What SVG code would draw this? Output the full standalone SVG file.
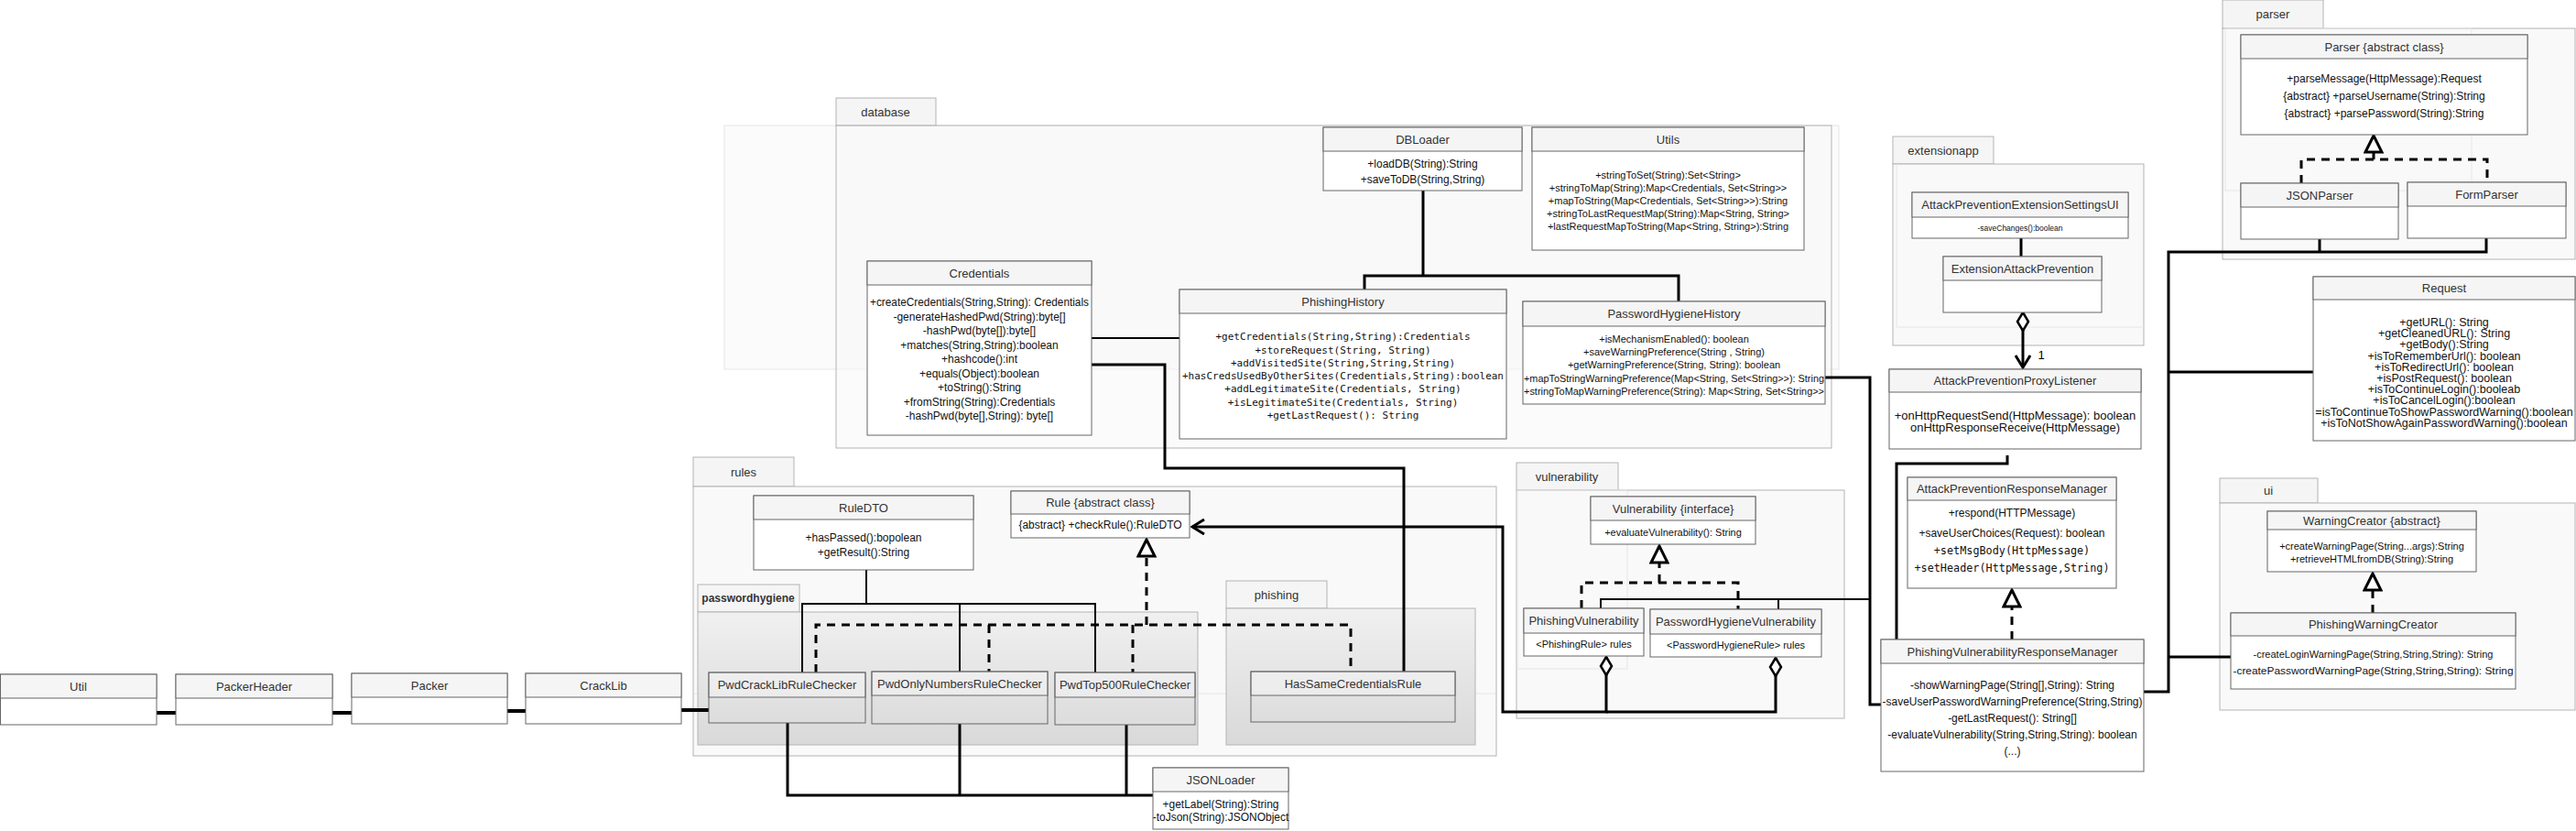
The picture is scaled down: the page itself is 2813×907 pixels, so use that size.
<svg xmlns="http://www.w3.org/2000/svg" width="2813" height="907" viewBox="0 0 2813 907">
<style>
.pkgb{fill:#f9f9f9;stroke:#b3b3b3;stroke-width:1}
.pkgt{fill:#f5f5f5;stroke:#b3b3b3;stroke-width:1}
.pkgg{fill:url(#g);stroke:#b3b3b3;stroke-width:1}
.faint{fill:#fbfbfb;stroke:#e6e6e6;stroke-width:1}
.fl{fill:none;stroke:#e6e6e6;stroke-width:1}
.box{fill:#fff;stroke:#666;stroke-width:1}
.hd{fill:#f5f5f5;stroke:#666;stroke-width:1}
.tb{fill:none;stroke:#666;stroke-width:1}
.th{fill:#ffffff;fill-opacity:.35;stroke:#666;stroke-width:1}
text{font-family:"Liberation Sans",Arial,sans-serif;fill:#333;text-anchor:middle;dominant-baseline:central}
.n{font-size:13px}
.nb{font-size:12px;font-weight:bold}
.m{font-size:12px;fill:#111}
.s11{font-size:11px}
.s13{font-size:13px}
.mono{font-family:"DejaVu Sans Mono","Liberation Mono",monospace}
.c{fill:none;stroke:#000;stroke-width:3}
.c2{stroke-width:2}
.c4{stroke-width:4}
.d{stroke-dasharray:9 7}
.tri{marker-end:url(#tri)}
</style>
<defs>
<linearGradient id="g" x1="0" y1="0" x2="0" y2="1">
<stop offset="0" stop-color="#f0f0f0"/>
<stop offset="1" stop-color="#d9d9d9"/>
</linearGradient>
<marker id="tri" viewBox="0 0 22 22" refX="20" refY="11" markerWidth="22" markerHeight="22" markerUnits="userSpaceOnUse" orient="auto">
<path d="M2,2 L20,11 L2,20 Z" fill="#fff" stroke="#000" stroke-width="3" stroke-linejoin="miter"/>
</marker>
<marker id="dia" viewBox="0 0 22 16" refX="1" refY="8" markerWidth="22" markerHeight="16" markerUnits="userSpaceOnUse" orient="auto">
<path d="M1,8 L11,2 L21,8 L11,14 Z" fill="#fff" stroke="#000" stroke-width="2.5"/>
</marker>
<marker id="open" viewBox="0 0 16 18" refX="14" refY="9" markerWidth="16" markerHeight="18" markerUnits="userSpaceOnUse" orient="auto">
<path d="M1,1 L14,9 L1,17" fill="none" stroke="#000" stroke-width="3"/>
</marker>
</defs>
<rect width="2813" height="907" fill="#fff"/>

<!-- packages -->
<g id="pkg-database">
<rect class="faint" x="791" y="137" width="1217" height="266"/>
<rect class="pkgt" x="913" y="107" width="109" height="30"/>
<rect class="pkgb" x="913" y="137" width="1087" height="352" fill-opacity=".6"/>
<text class="n" x="967" y="122">database</text>
</g>
<g id="pkg-extensionapp">
<rect class="pkgt" x="2067" y="149" width="110" height="30"/>
<rect class="pkgb" x="2067" y="179" width="274" height="198"/>
<line class="fl" x1="2071" y1="357" x2="2341" y2="357"/>
<line class="fl" x1="2071" y1="179" x2="2071" y2="357"/>
<text class="n" x="2122" y="164">extensionapp</text>
</g>
<g id="pkg-parser">
<rect class="pkgt" x="2427" y="0" width="110" height="31"/>
<rect class="pkgb" x="2427" y="31" width="385" height="252"/>
<rect class="fl" x="2430" y="31" width="269" height="177"/>
<text class="n" x="2482" y="15">parser</text>
</g>
<g id="pkg-ui">
<rect class="pkgt" x="2424" y="522" width="107" height="27"/>
<rect class="pkgb" x="2424" y="549" width="388" height="226"/>
<text class="n" x="2477" y="535">ui</text>
</g>
<g id="pkg-rules">
<rect class="pkgt" x="757" y="499" width="110" height="32"/>
<rect class="pkgb" x="757" y="531" width="877" height="294"/>
<line class="fl" x1="758" y1="757" x2="1633" y2="757"/>
<text class="n" x="812" y="515">rules</text>
</g>
<g id="pkg-passwordhygiene">
<rect class="pkgt" x="762" y="638" width="111" height="30"/>
<rect class="pkgg" x="762" y="668" width="546" height="145"/>
<text class="nb" x="817" y="653">passwordhygiene</text>
</g>
<g id="pkg-phishing">
<rect class="pkgt" x="1339" y="634" width="110" height="30"/>
<rect class="pkgg" x="1339" y="664" width="272" height="149"/>
<text class="n" x="1394" y="649">phishing</text>
</g>
<g id="pkg-vulnerability">
<rect class="pkgt" x="1656" y="505" width="111" height="30"/>
<rect class="pkgb" x="1656" y="535" width="358" height="249"/>
<rect class="fl" x="1657" y="535" width="120" height="195"/>
<text class="n" x="1711" y="520">vulnerability</text>
</g>

<!-- connectors -->
<g id="connectors">
<path class="c c2" d="M1192,369 H1288"/>
<path class="c" d="M1192,398 H1272 V511 H1533 V733"/>
<path class="c" d="M1554,208 V301 M1490,316 V301 H1833 V329"/>
<path class="c" d="M1993,412 H2042 V769 H2054"/>
<path class="c c2" d="M1748,664 V654 H2042 M1942,665 V654"/>
<path class="c" d="M2207,260 V280"/>
<path class="c" d="M2209,341 V401" marker-start="url(#dia)" marker-end="url(#open)"/>
<path class="c" d="M2192,497 V506 H2071 V698"/>
<path class="c d tri" d="M2197,698 V644"/>
<path class="c" d="M2341,755 H2368 V275 H2715 V260 M2533,261 V275 M2368,406 H2526 M2368,717 H2436"/>
<path class="c d tri" d="M2592,174 V148"/>
<path class="c d" d="M2513,200 V174 H2716 V199"/>
<path class="c d tri" d="M2591,669 V626"/>
<path class="c d tri" d="M1812,636 V596"/>
<path class="c d" d="M1727,664 V636 H1898 V665"/>
<path class="c" d="M1754,717 V777 H1641 V575 H1302" marker-start="url(#dia)" marker-end="url(#open)"/>
<path class="c" d="M1939,718 V777 H1754" marker-start="url(#dia)"/>
<path class="c d tri" d="M1252,682 V589"/>
<path class="c d" d="M891,734 V682 H1475 V733 M1080,682 V733 M1237,682 V734"/>
<path class="c c2" d="M946,622 V659 M876,734 V659 H1196 V734 M1048,659 V733"/>
<path class="c c4" d="M171,778 H192 M363,778 H384 M554,776 H574 M744,775 H774"/>
<path class="c" d="M860,789 V868 H1259 M1048,790 V868 M1230,791 V868"/>
<text class="s13" x="2229" y="387" style="fill:#000">1</text>
</g>

<!-- nodes -->
<g id="Credentials">
<rect class="box" x="947" y="285" width="245" height="190"/>
<rect class="hd" x="947" y="285" width="245" height="26"/>
<text class="n" x="1069.5" y="298">Credentials</text>
<text class="m" x="1069.5" y="330" textLength="239" lengthAdjust="spacingAndGlyphs">+createCredentials(String,String): Credentials</text>
<text class="m" x="1069.5" y="345.5">-generateHashedPwd(String):byte[]</text>
<text class="m" x="1069.5" y="361">-hashPwd(byte[]):byte[]</text>
<text class="m" x="1069.5" y="376.5">+matches(String,String):boolean</text>
<text class="m" x="1069.5" y="392">+hashcode():int</text>
<text class="m" x="1069.5" y="407.5">+equals(Object):boolean</text>
<text class="m" x="1069.5" y="423">+toString():String</text>
<text class="m" x="1069.5" y="438.5">+fromString(String):Credentials</text>
<text class="m" x="1069.5" y="454">-hashPwd(byte[],String): byte[]</text>
</g>
<g id="DBLoader">
<rect class="box" x="1445" y="139" width="217" height="69"/>
<rect class="hd" x="1445" y="139" width="217" height="26"/>
<text class="n" x="1553.5" y="152">DBLoader</text>
<text class="m" x="1553.5" y="179">+loadDB(String):String</text>
<text class="m" x="1553.5" y="196">+saveToDB(String,String)</text>
</g>
<g id="Utils">
<rect class="box" x="1673" y="139" width="297" height="134"/>
<rect class="hd" x="1673" y="139" width="297" height="26"/>
<text class="n" x="1821.5" y="152">Utils</text>
<text class="m s11" x="1821.5" y="191">+stringToSet(String):Set&lt;String&gt;</text>
<text class="m s11" x="1821.5" y="205">+stringToMap(String):Map&lt;Credentials, Set&lt;String&gt;&gt;</text>
<text class="m s11" x="1821.5" y="219">+mapToString(Map&lt;Credentials, Set&lt;String&gt;&gt;):String</text>
<text class="m s11" x="1821.5" y="233">+stringToLastRequestMap(String):Map&lt;String, String&gt;</text>
<text class="m s11" x="1821.5" y="247">+lastRequestMapToString(Map&lt;String, String&gt;):String</text>
</g>
<g id="PhishingHistory">
<rect class="box" x="1288" y="316" width="357" height="163"/>
<rect class="hd" x="1288" y="316" width="357" height="26"/>
<text class="n" x="1466.5" y="329">PhishingHistory</text>
<text class="m s11 mono" x="1466.5" y="367">+getCredentials(String,String):Credentials</text>
<text class="m s11 mono" x="1466.5" y="382">+storeRequest(String, String)</text>
<text class="m s11 mono" x="1466.5" y="396">+addVisitedSite(String,String,String)</text>
<text class="m s11 mono" x="1466.5" y="410">+hasCredsUsedByOtherSites(Credentials,String):boolean</text>
<text class="m s11 mono" x="1466.5" y="424">+addLegitimateSite(Credentials, String)</text>
<text class="m s11 mono" x="1466.5" y="439">+isLegitimateSite(Credentials, String)</text>
<text class="m s11 mono" x="1466.5" y="453">+getLastRequest(): String</text>
</g>
<g id="PasswordHygieneHistory">
<rect class="box" x="1663" y="329" width="330" height="112"/>
<rect class="hd" x="1663" y="329" width="330" height="27"/>
<text class="n" x="1828" y="342.5">PasswordHygieneHistory</text>
<text class="m s11" x="1828" y="370">+isMechanismEnabled(): boolean</text>
<text class="m s11" x="1828" y="384">+saveWarningPreference(String , String)</text>
<text class="m s11" x="1828" y="398">+getWarningPreference(String, String): boolean</text>
<text class="m s11" x="1828" y="413" textLength="328" lengthAdjust="spacingAndGlyphs">+mapToStringWarningPreference(Map&lt;String, Set&lt;String&gt;&gt;): String</text>
<text class="m s11" x="1828" y="427" textLength="328" lengthAdjust="spacingAndGlyphs">+stringToMapWarningPreference(String): Map&lt;String, Set&lt;String&gt;&gt;</text>
</g>
<g id="AttackPreventionExtensionSettingsUI">
<rect class="box" x="2088" y="210" width="236" height="50"/>
<rect class="hd" x="2088" y="210" width="236" height="27"/>
<text class="n" x="2206" y="223.5">AttackPreventionExtensionSettingsUI</text>
<text class="m" x="2206" y="249" style="font-size:8.5px">-saveChanges():boolean</text>
</g>
<g id="ExtensionAttackPrevention">
<rect class="box" x="2122" y="280" width="173" height="61"/>
<rect class="hd" x="2122" y="280" width="173" height="26"/>
<text class="n" x="2208.5" y="293">ExtensionAttackPrevention</text>
</g>
<g id="AttackPreventionProxyListener">
<rect class="box" x="2063" y="403" width="275" height="87"/>
<rect class="hd" x="2063" y="403" width="275" height="25"/>
<text class="n" x="2200.5" y="415.5">AttackPreventionProxyListener</text>
<text class="m s13" x="2200.5" y="453">+onHttpRequestSend(HttpMessage): boolean</text>
<text class="m s13" x="2200.5" y="466">onHttpResponseReceive(HttpMessage)</text>
</g>
<g id="AttackPreventionResponseManager">
<rect class="box" x="2083" y="521" width="228" height="121"/>
<rect class="hd" x="2083" y="521" width="228" height="25"/>
<text class="n" x="2197" y="533.5">AttackPreventionResponseManager</text>
<text class="m" x="2197" y="560">+respond(HTTPMessage)</text>
<text class="m" x="2197" y="582">+saveUserChoices(Request): boolean</text>
<text class="m mono" x="2197" y="601" style="font-size:11.8px">+setMsgBody(HttpMessage)</text>
<text class="m mono" x="2197" y="620" style="font-size:11.8px">+setHeader(HttpMessage,String)</text>
</g>
<g id="PhishingVulnerabilityResponseManager">
<rect class="box" x="2054" y="698" width="287" height="144"/>
<rect class="hd" x="2054" y="698" width="287" height="26"/>
<text class="n" x="2197.5" y="711">PhishingVulnerabilityResponseManager</text>
<text class="m" x="2197.5" y="748">-showWarningPage(String[],String): String</text>
<text class="m" x="2197.5" y="766" textLength="284" lengthAdjust="spacingAndGlyphs">-saveUserPasswordWarningPreference(String,String)</text>
<text class="m" x="2197.5" y="784">-getLastRequest(): String[]</text>
<text class="m" x="2197.5" y="802">-evaluateVulnerability(String,String,String): boolean</text>
<text class="m" x="2197.5" y="820">(...)</text>
</g>
<g id="Parser">
<rect class="box" x="2447" y="38" width="313" height="109"/>
<rect class="hd" x="2447" y="38" width="313" height="26"/>
<text class="n" x="2603.5" y="51">Parser {abstract class}</text>
<text class="m" x="2603.5" y="86">+parseMessage(HttpMessage):Request</text>
<text class="m" x="2603.5" y="105">{abstract} +parseUsername(String):String</text>
<text class="m" x="2603.5" y="124">{abstract} +parsePassword(String):String</text>
</g>
<g id="JSONParser">
<rect class="box" x="2447" y="200" width="172" height="61"/>
<rect class="hd" x="2447" y="200" width="172" height="26"/>
<text class="n" x="2533" y="213">JSONParser</text>
</g>
<g id="FormParser">
<rect class="box" x="2629" y="199" width="173" height="61"/>
<rect class="hd" x="2629" y="199" width="173" height="26"/>
<text class="n" x="2715.5" y="212">FormParser</text>
</g>
<g id="Request">
<rect class="box" x="2526" y="302" width="286" height="179"/>
<rect class="hd" x="2526" y="302" width="286" height="25"/>
<text class="n" x="2669" y="314.5">Request</text>
<text class="m" x="2669" y="352" style="font-size:12.5px">+getURL(): String</text>
<text class="m" x="2669" y="364.2" style="font-size:12.5px">+getCleanedURL(): String</text>
<text class="m" x="2669" y="376.4" style="font-size:12.5px">+getBody():String</text>
<text class="m" x="2669" y="388.6" style="font-size:12.5px">+isToRememberUrl(): boolean</text>
<text class="m" x="2669" y="400.8" style="font-size:12.5px">+isToRedirectUrl(): boolean</text>
<text class="m" x="2669" y="413" style="font-size:12.5px">+isPostRequest(): boolean</text>
<text class="m" x="2669" y="425.2" style="font-size:12.5px">+isToContinueLogin():booleab</text>
<text class="m" x="2669" y="437.4" style="font-size:12.5px">+isToCancelLogin():boolean</text>
<text class="m" x="2669" y="449.6" style="font-size:12.5px">=isToContinueToShowPasswordWarning():boolean</text>
<text class="m" x="2669" y="461.8" style="font-size:12.5px">+isToNotShowAgainPasswordWarning():boolean</text>
</g>
<g id="WarningCreator">
<rect class="box" x="2476" y="558" width="228" height="66"/>
<rect class="hd" x="2476" y="558" width="228" height="20"/>
<text class="n" x="2590" y="568">WarningCreator {abstract}</text>
<text class="m s11" x="2590" y="596">+createWarningPage(String...args):String</text>
<text class="m s11" x="2590" y="610">+retrieveHTMLfromDB(String):String</text>
</g>
<g id="PhishingWarningCreator">
<rect class="box" x="2436" y="669" width="311" height="83"/>
<rect class="hd" x="2436" y="669" width="311" height="25"/>
<text class="n" x="2591.5" y="681.5">PhishingWarningCreator</text>
<text class="m s11" x="2591.5" y="714">-createLoginWarningPage(String,String,String): String</text>
<text class="m s11" x="2591.5" y="732" textLength="306" lengthAdjust="spacingAndGlyphs">-createPasswordWarningPage(String,String,String): String</text>
</g>
<g id="Vulnerability">
<rect class="box" x="1737" y="542" width="180" height="52"/>
<rect class="hd" x="1737" y="542" width="180" height="26"/>
<text class="n" x="1827" y="555">Vulnerability {interface}</text>
<text class="m s11" x="1827" y="581">+evaluateVulnerability(): String</text>
</g>
<g id="PhishingVulnerability">
<rect class="box" x="1664" y="664" width="131" height="52"/>
<rect class="hd" x="1664" y="664" width="131" height="27"/>
<text class="n" x="1729.5" y="677.5">PhishingVulnerability</text>
<text class="m s11" x="1729.5" y="703">&lt;PhishingRule&gt; rules</text>
</g>
<g id="PasswordHygieneVulnerability">
<rect class="box" x="1802" y="665" width="187" height="52"/>
<rect class="hd" x="1802" y="665" width="187" height="27"/>
<text class="n" x="1895.5" y="678.5">PasswordHygieneVulnerability</text>
<text class="m s11" x="1895.5" y="704">&lt;PasswordHygieneRule&gt; rules</text>
</g>
<g id="RuleDTO">
<rect class="box" x="823" y="541" width="240" height="81"/>
<rect class="hd" x="823" y="541" width="240" height="26"/>
<text class="n" x="943" y="554">RuleDTO</text>
<text class="m" x="943" y="587">+hasPassed():bopolean</text>
<text class="m" x="943" y="603">+getResult():String</text>
</g>
<g id="Rule">
<rect class="box" x="1104" y="536" width="195" height="51"/>
<rect class="hd" x="1104" y="536" width="195" height="25"/>
<text class="n" x="1201.5" y="548.5">Rule {abstract class}</text>
<text class="m" x="1201.5" y="573">{abstract} +checkRule():RuleDTO</text>
</g>
<g id="PwdCrackLibRuleChecker">
<rect class="tb" x="774" y="734" width="171" height="55"/>
<rect class="th" x="774" y="734" width="171" height="27"/>
<text class="n" x="859.5" y="747.5">PwdCrackLibRuleChecker</text>
</g>
<g id="PwdOnlyNumbersRuleChecker">
<rect class="tb" x="952" y="733" width="192" height="57"/>
<rect class="th" x="952" y="733" width="192" height="26"/>
<text class="n" x="1048" y="746">PwdOnlyNumbersRuleChecker</text>
</g>
<g id="PwdTop500RuleChecker">
<rect class="tb" x="1152" y="734" width="153" height="57"/>
<rect class="th" x="1152" y="734" width="153" height="27"/>
<text class="n" x="1228.5" y="747.5">PwdTop500RuleChecker</text>
</g>
<g id="HasSameCredentialsRule">
<rect class="tb" x="1366" y="733" width="223" height="55"/>
<rect class="th" x="1366" y="733" width="223" height="26"/>
<text class="n" x="1477.5" y="746">HasSameCredentialsRule</text>
</g>
<g id="Util">
<rect class="box" x="0.5" y="736" width="170.5" height="55"/>
<rect class="hd" x="0.5" y="736" width="170.5" height="26"/>
<text class="n" x="85.5" y="749">Util</text>
</g>
<g id="PackerHeader">
<rect class="box" x="192" y="736" width="171" height="55"/>
<rect class="hd" x="192" y="736" width="171" height="26"/>
<text class="n" x="277.5" y="749">PackerHeader</text>
</g>
<g id="Packer">
<rect class="box" x="384" y="735" width="170" height="55"/>
<rect class="hd" x="384" y="735" width="170" height="26"/>
<text class="n" x="469" y="748">Packer</text>
</g>
<g id="CrackLib">
<rect class="box" x="574" y="735" width="170" height="55"/>
<rect class="hd" x="574" y="735" width="170" height="26"/>
<text class="n" x="659" y="748">CrackLib</text>
</g>
<g id="JSONLoader">
<rect class="box" x="1259" y="838" width="148" height="67"/>
<rect class="hd" x="1259" y="838" width="148" height="26"/>
<text class="n" x="1333" y="851">JSONLoader</text>
<text class="m" x="1333" y="878">+getLabel(String):String</text>
<text class="m" x="1333" y="892">-toJson(String):JSONObject</text>
</g>
</svg>
